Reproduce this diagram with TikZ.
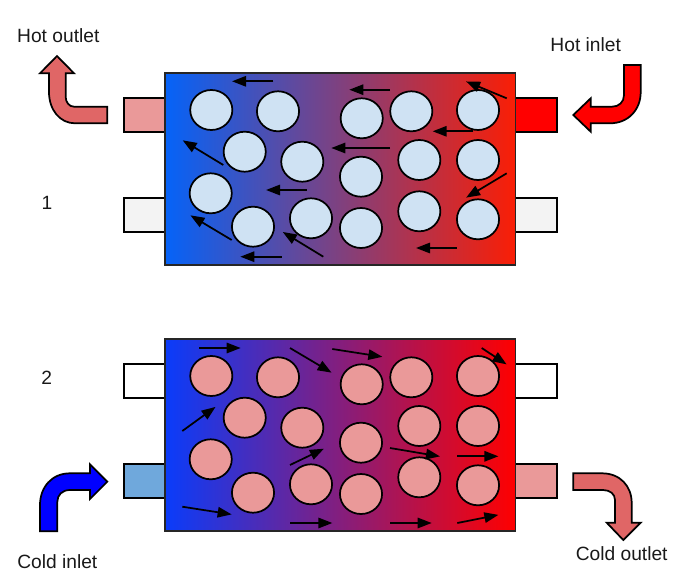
\documentclass[tikz,border=0pt]{standalone}
\usepackage{fontspec}
\setmainfont{Liberation Sans}
\usetikzlibrary{arrows.meta}
\definecolor{pipeblue}{HTML}{CFE2F3}
\definecolor{pipepink}{HTML}{EA9999}
\definecolor{bentpink}{HTML}{E06666}
\definecolor{portgrey}{HTML}{F3F3F3}
\definecolor{portblue}{HTML}{6FA8DC}
\definecolor{lefttop}{HTML}{0563F8}
\definecolor{righttop}{HTML}{FA1E05}
\definecolor{leftbot}{HTML}{0A3CFA}
\definecolor{rightbot}{HTML}{FF0000}
\tikzset{
  outline/.style={draw=black,line width=1.3pt,line join=miter},
  shell/.style={outline,draw=black!85},
  port/.style={outline},
  pipe/.style={outline},
  flow/.style={line width=1.3pt,-{Triangle[length=10.5pt,width=7.8pt]},shorten >=-0.5pt},
  bent/.style={outline},
  label/.style={font=\fontsize{14.4pt}{17pt}\selectfont,text=black!90,inner sep=0pt},
}
\begin{document}
\begin{tikzpicture}[x=0.75pt,y=-0.75pt]
\useasboundingbox (0,0) rectangle (681,588);
% ports
\draw[port,fill=pipepink] (123.8,98) rectangle (165,131.7);
\draw[port,fill=portgrey] (123.8,198) rectangle (165,231.7);
\draw[port,fill=red] (515.6,98) rectangle (557.3,131.7);
\draw[port,fill=portgrey] (515.6,198) rectangle (557.3,231.7);
\draw[port,fill=white] (123.8,364) rectangle (165,397.7);
\draw[port,fill=portblue] (123.8,464.3) rectangle (165,498);
\draw[port,fill=white] (515.6,364) rectangle (557.3,397.7);
\draw[port,fill=pipepink] (515.6,464.3) rectangle (557.3,498);
% shells
\draw[shell,left color=lefttop,right color=righttop] (165,73) rectangle (515.6,265);
\draw[shell,left color=leftbot,right color=rightbot] (165,339) rectangle (515.6,531);
% pipes
\foreach \x/\y in {211.3/110,278/111.3,244.7/151.7,302.3/161.7,210.7/193.3,253/226.7,311/218.3,
  361.7/118.3,411.3/111.3,478/110,361/176.7,419.3/160,478/160,361/228,419.3/211.3,478/219.3}{
  \draw[pipe,fill=pipeblue] (\x,\y) ellipse [x radius=15.8pt,y radius=15pt];
  \draw[pipe,fill=pipepink] (\x,\y+266) ellipse [x radius=15.8pt,y radius=15pt];
}
% flow arrows
\foreach \a/\b/\c/\d in {273.3/81.3/232.7/81.3,223.3/165/183.3/140.7,306.7/190/266.7/190,
  231.7/240/191/215.7,323.3/256.7/283.3/232.3,281.7/256.7/241/256.7,390/89.7/350/89.7,
  390/148/332/148,473.3/131.3/433.3/131.3,506.7/98.3/466.7/81.7,506.7/173.3/466.7/197.3,
  456.7/248/416.7/248,
  199/348/240/348,290/348/331/372.3,182.3/431/215/407.3,290/465/323.3/449,
  182.3/506.7/231/514.3,290/523/331.7/523,332.3/349/381.7/356.7,481.7/348/506/364,
  390/448/439.3/456.3,457.3/456.3/497.7/456.3,390/523/431/523,457.3/523/497.7/515}{
  \draw[flow] (\a,\b) -- (\c,\d);
}
% bent arrows
\draw[bent,fill=bentpink] (107.3,106.7) -- (74,106.7)
  .. controls (69,106.7) and (65.7,102) .. (65.7,97) -- (65.7,73.3) -- (74,73.3) -- (57,56) -- (40,73.3) -- (49,73.3) -- (49,92)
  .. controls (49,110) and (60,123.3) .. (75,123.3) -- (107.3,123.3) -- cycle;
\draw[bent,fill=red] (624,65) -- (624,95)
  .. controls (624,102) and (619,106.7) .. (612,106.7) -- (590.7,106.7) -- (590.7,98.3) -- (573.3,115) -- (590.7,131.7) -- (590.7,123.3) -- (610,123.3)
  .. controls (628,123.3) and (640.7,110) .. (640.7,92) -- (640.7,65) -- cycle;
\draw[bent,fill=blue] (40,531.3) -- (40,505)
  .. controls (40,487) and (52,473.3) .. (70,473.3) -- (90,473.3) -- (90,464.3) -- (107.3,481.7) -- (90,499) -- (90,490) -- (70,490)
  .. controls (62,490) and (57.3,495) .. (57.3,502) -- (57.3,531.3) -- cycle;
\draw[bent,fill=bentpink] (573.3,473.3) -- (602,473.3)
  .. controls (620,473.3) and (631.7,486) .. (631.7,503) -- (631.7,522.7) -- (640.7,522.7) -- (623.3,540) -- (606.7,522.7) -- (615,522.7) -- (615,500)
  .. controls (615,494) and (610,490) .. (603,490) -- (573.3,490) -- cycle;
% labels
\node[label] (hotout) at (58.3,36) {Hot outlet};
\node[label] (hotin) at (585.7,44.3) {Hot inlet};
\node[label] (one) at (47,203) {1};
\node[label] (two) at (46.7,377.7) {2};
\node[label] (coldin) at (57.3,561.7) {Cold inlet};
\node[label] (coldout) at (621.7,553.3) {Cold outlet};
\end{tikzpicture}
\end{document}
